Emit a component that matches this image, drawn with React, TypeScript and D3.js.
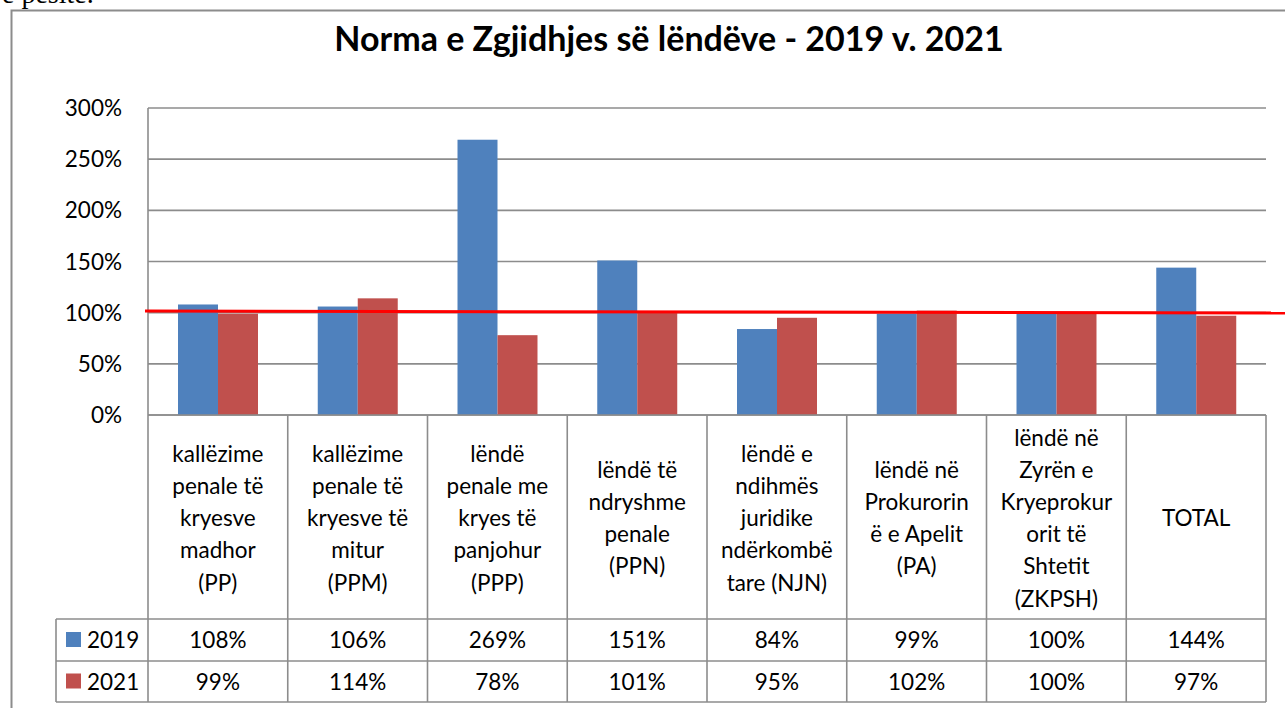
import React from "react";
import * as d3 from "d3";

const categories: string[][] = [
  ["kallëzime", "penale të", "kryesve", "madhor", "(PP)"],
  ["kallëzime", "penale të", "kryesve të", "mitur", "(PPM)"],
  ["lëndë", "penale me", "kryes të", "panjohur", "(PPP)"],
  ["lëndë të", "ndryshme", "penale", "(PPN)"],
  ["lëndë e", "ndihmës", "juridike", "ndërkombë", "tare (NJN)"],
  ["lëndë në", "Prokurorin", "ë e Apelit", "(PA)"],
  ["lëndë në", "Zyrën e", "Kryeprokur", "orit të", "Shtetit", "(ZKPSH)"],
  ["TOTAL"],
];
const seriesNames = ["2019", "2021"];
const values2019 = [1.08, 1.06, 2.69, 1.51, 0.84, 0.99, 1.0, 1.44];
const values2021 = [0.99, 1.14, 0.78, 1.01, 0.95, 1.02, 1.0, 0.97];
const yTicks = [0, 0.5, 1, 1.5, 2, 2.5, 3];
const refLine = [1.016, 0.997];
const title = "Norma e Zgjidhjes së lëndëve - 2019 v. 2021";

const colors = ["#4F81BD", "#C0504D"];
const grid = "#8c8c8c";
const font = "Lato, 'Open Sans', sans-serif";

export default function App() {
  const W = 1285, H = 708;
  const left = 148, right = 1266, top = 108, bottom = 415;
  const labelBottom = 619, row1 = 661, row2 = 702, legendLeft = 56;
  const series = [values2019, values2021];
  const idx = categories.map((_, i) => String(i));
  const x = d3.scaleBand<string>().domain(idx).range([left, right]).paddingInner(0).paddingOuter(0);
  const bw = x.bandwidth();
  const xi = d3.scaleBand<string>().domain(seriesNames).range([bw * 0.2147, bw * 0.7871]);
  const y = d3.scaleLinear().domain([0, 3]).range([bottom, top]);
  const fmt = d3.format(".0%");
  const lineH = 32.2;

  return (
    <svg width={W} height={H} style={{ position: "absolute", left: 0, top: 0, background: "#fff" }}>
      <text x={2} y={3} fontFamily="'Liberation Serif', 'DejaVu Serif', serif" fontSize={28} fill="#000">
        e pësite.
      </text>
      {/* outer chart border */}
      <path d={`M${W + 5},10.5 H11.5 V${H + 5}`} fill="none" stroke={grid} strokeWidth={2} />
      <text x={669} y={51} textAnchor="middle" fontFamily={font} fontWeight={700} fontSize={34} fill="#000">
        {title}
      </text>
      {/* gridlines */}
      {yTicks.map((t) => (
        <g key={t}>
          <line x1={left} x2={right} y1={y(t)} y2={y(t)} stroke={grid} strokeWidth={1.6} />
          <text x={122} y={y(t)} dy="0.36em" textAnchor="end" fontFamily={font} fontSize={22.5} fill="#000">
            {fmt(t)}
          </text>
        </g>
      ))}
      <line x1={left} x2={left} y1={top} y2={bottom} stroke={grid} strokeWidth={1.6} />
      {/* bars */}
      {series.map((vals, s) =>
        vals.map((v, i) => (
          <rect
            key={`${s}-${i}`}
            x={(x(String(i)) as number) + (xi(seriesNames[s]) as number)}
            y={y(v)}
            width={xi.bandwidth()}
            height={y(0) - y(v)}
            fill={colors[s]}
          />
        ))
      )}
      {/* data table */}
      <g stroke={grid} strokeWidth={1.6} fill="none">
        <line x1={left} x2={right} y1={bottom} y2={bottom} />
        <line x1={legendLeft} x2={right} y1={labelBottom} y2={labelBottom} />
        <line x1={legendLeft} x2={right} y1={row1} y2={row1} />
        <line x1={legendLeft} x2={right} y1={row2} y2={row2} />
        <line x1={legendLeft} x2={legendLeft} y1={labelBottom} y2={row2} />
        {d3.range(categories.length + 1).map((i) => (
          <line key={i} x1={left + i * bw} x2={left + i * bw} y1={bottom} y2={row2} />
        ))}
      </g>
      {categories.map((lines, i) => {
        const cx = (x(String(i)) as number) + bw / 2;
        const cy = (bottom + labelBottom) / 2 + 1;
        return (
          <text key={i} textAnchor="middle" fontFamily={font} fontSize={22.5} fill="#000">
            {lines.map((l, k) => (
              <tspan key={k} x={cx} y={cy + (k - (lines.length - 1) / 2) * lineH} dy="0.36em">
                {l}
              </tspan>
            ))}
          </text>
        );
      })}
      {series.map((vals, s) => {
        const r0 = s === 0 ? labelBottom : row1;
        const r1 = s === 0 ? row1 : row2;
        const cy = (r0 + r1) / 2;
        return (
          <g key={s}>
            <rect x={66} y={cy - 8} width={15} height={15} fill={colors[s]} />
            <text x={87} y={cy} dy="0.36em" fontFamily={font} fontSize={22.5} fill="#000">
              {seriesNames[s]}
            </text>
            {vals.map((v, i) => (
              <text
                key={i}
                x={(x(String(i)) as number) + bw / 2}
                y={cy}
                dy="0.36em"
                textAnchor="middle"
                fontFamily={font}
                fontSize={22.5}
                fill="#000"
              >
                {fmt(v)}
              </text>
            ))}
          </g>
        );
      })}
      {/* reference line at 100% */}
      <line x1={145} x2={W} y1={y(refLine[0])} y2={y(refLine[1])} stroke="#FF0000" strokeWidth={3} />
    </svg>
  );
}
